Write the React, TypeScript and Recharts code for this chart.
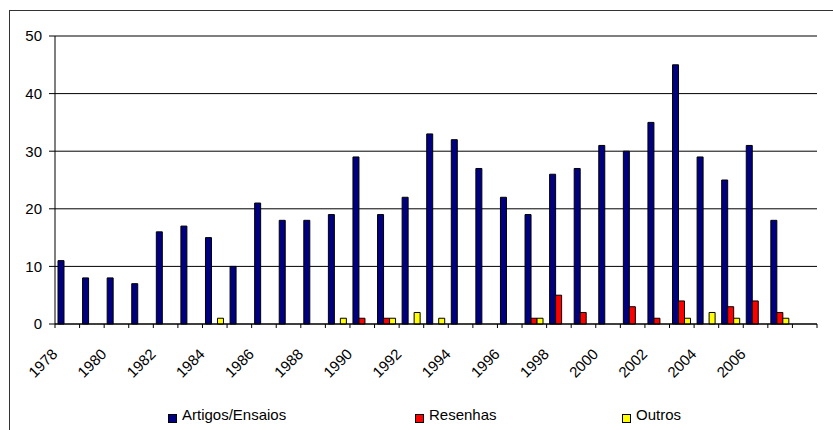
import { BarChart, Bar, XAxis, YAxis, CartesianGrid, ReferenceLine } from "recharts";

// years on the category axis (last slot is an empty category, as in the original sheet)
const years = [
  "1978", "1979", "1980", "1981", "1982", "1983", "1984", "1985", "1986", "1987",
  "1988", "1989", "1990", "1991", "1992", "1993", "1994", "1995", "1996", "1997",
  "1998", "1999", "2000", "2001", "2002", "2003", "2004", "2005", "2006", "2007", "",
];

const artigos = [
  11, 8, 8, 7, 16, 17, 15, 10, 21, 18,
  18, 19, 29, 19, 22, 33, 32, 27, 22, 19,
  26, 27, 31, 30, 35, 45, 29, 25, 31, 18, null,
];

const resenhas = [
  0, 0, 0, 0, 0, 0, 0, 0, 0, 0,
  0, 0, 1, 1, 0, 0, 0, 0, 0, 1,
  5, 2, 0, 3, 1, 4, 0, 3, 4, 2, null,
];

const outros = [
  0, 0, 0, 0, 0, 0, 1, 0, 0, 0,
  0, 1, 0, 1, 2, 1, 0, 0, 0, 1,
  0, 0, 0, 0, 0, 1, 2, 1, 0, 1, null,
];

const yTicks = [0, 10, 20, 30, 40, 50];

const series = [
  { key: "artigos", name: "Artigos/Ensaios", color: "#000080" },
  { key: "resenhas", name: "Resenhas", color: "#FF0000" },
  { key: "outros", name: "Outros", color: "#FFFF00" },
];

const data = years.map((year, i) => ({
  year,
  artigos: artigos[i],
  resenhas: resenhas[i],
  outros: outros[i],
}));

const FONT = '"Liberation Sans", Arial, sans-serif';

// ticks sit on the category boundaries, labels on every other year, rotated
const XTick = (props: any) => {
  const { x, y, payload, index } = props;
  const half = payload && payload.offset ? payload.offset : 12.3;
  const isLast = index === years.length - 1;
  return (
    <g>
      <line x1={x - half} x2={x - half} y1={y} y2={y + 4} stroke="#000" />
      {isLast && <line x1={x + half} x2={x + half} y1={y} y2={y + 4} stroke="#000" />}
      {index % 2 === 0 && payload.value !== "" && (
        <text
          transform={`translate(${x - 9},${y + 31}) rotate(-45)`}
          textAnchor="end"
          fontSize={15}
          fontFamily={FONT}
          fill="#000"
        >
          {payload.value}
        </text>
      )}
    </g>
  );
};

const legendPos = [158, 405, 612];

export default function App() {
  return (
    <div
      style={{
        position: "absolute",
        left: 9,
        top: 10,
        width: 823,
        height: 419,
        borderLeft: "1px solid #333",
        borderTop: "1px solid #333",
        background: "#fff",
        fontFamily: FONT,
      }}
    >
      <div style={{ position: "relative", width: 823, height: 419 }}>
        <BarChart
          width={823}
          height={419}
          data={data}
          margin={{ top: 25, right: 16, bottom: 0, left: 0 }}
          barSize={6}
          barGap={0}
        >
          <CartesianGrid vertical={false} stroke="#000" />
          <XAxis
            dataKey="year"
            interval={0}
            height={106}
            tickLine={false}
            tickSize={0}
            tickMargin={0}
            axisLine={{ stroke: "#000" }}
            tick={<XTick />}
          />
          <YAxis
            domain={[0, 50]}
            ticks={yTicks}
            width={45}
            tickSize={6}
            tickMargin={7}
            tickLine={{ stroke: "#000" }}
            axisLine={{ stroke: "#000" }}
            tick={{ fontSize: 15, fill: "#000", fontFamily: FONT }}
          />
          <YAxis
            yAxisId="frame"
            orientation="right"
            domain={[0, 50]}
            width={0}
            tick={false}
            tickLine={false}
            axisLine={{ stroke: "#808080" }}
          />
          <ReferenceLine y={50} stroke="#808080" />
          {series.map((s) => (
            <Bar
              key={s.key}
              dataKey={s.key}
              name={s.name}
              fill={s.color}
              stroke="#000"
              strokeWidth={1}
              isAnimationActive={false}
            />
          ))}
        </BarChart>
        {series.map((s, i) => (
          <div
            key={s.key}
            style={{
              position: "absolute",
              left: legendPos[i],
              top: 395,
              display: "flex",
              alignItems: "flex-end",
              fontSize: 15,
              lineHeight: "17px",
              color: "#000",
              whiteSpace: "nowrap",
            }}
          >
            <span
              style={{
                display: "inline-block",
                width: 9,
                height: 9,
                boxSizing: "border-box",
                border: "1px solid #000",
                background: s.color,
                marginRight: 5,
                marginBottom: 0,
              }}
            />
            <span>{s.name}</span>
          </div>
        ))}
      </div>
    </div>
  );
}
